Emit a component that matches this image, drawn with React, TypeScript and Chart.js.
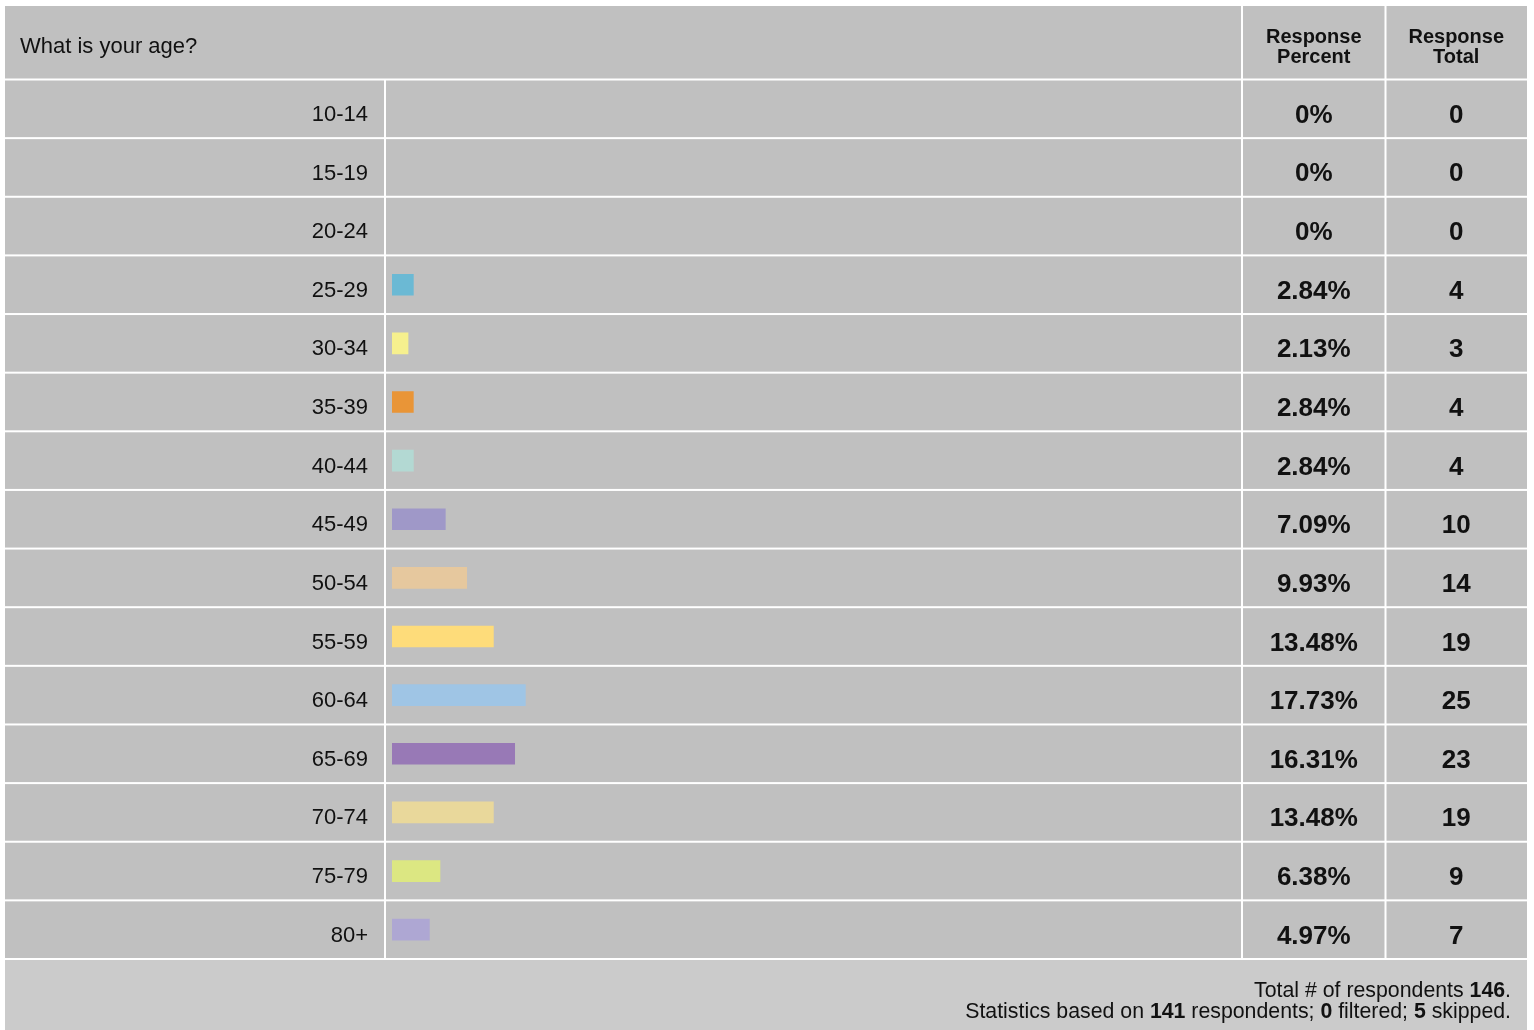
import React, { useEffect, useRef } from 'react';
import { Chart, registerables } from 'chart.js';

Chart.register(...registerables);

// ---- data ----
const questionTitle = 'What is your age?';
const categories = ['10-14', '15-19', '20-24', '25-29', '30-34', '35-39', '40-44', '45-49', '50-54', '55-59', '60-64', '65-69', '70-74', '75-79', '80+'];
const percents = [0, 0, 0, 2.84, 2.13, 2.84, 2.84, 7.09, 9.93, 13.48, 17.73, 16.31, 13.48, 6.38, 4.97];
const totals = [0, 0, 0, 4, 3, 4, 4, 10, 14, 19, 25, 23, 19, 9, 7];
const barColors = ['#6bb9d4', '#6bb9d4', '#6bb9d4', '#6bb9d4', '#f6f08e', '#e99537', '#b3d9d3', '#9f98c8', '#e6c89e', '#fedc7a', '#9fc5e5', '#9879b6', '#e9d89b', '#dce782', '#aea7d3'];
const percentHeader = ['Response', 'Percent'];
const totalHeader = ['Response', 'Total'];
const footerLine1: [string, boolean][] = [['Total # of respondents ', false], ['146', true], ['.', false]];
const footerLine2: [string, boolean][] = [['Statistics based on ', false], ['141', true], [' respondents; ', false], ['0', true], [' filtered; ', false], ['5', true], [' skipped.', false]];

const FONT = '"Liberation Sans", Arial, Helvetica, sans-serif';
const TEXT = '#111111';

const tablePlugin = {
  id: 'surveyTable',
  beforeDraw(chart: any) {
    const { ctx, scales, chartArea } = chart;
    const y = scales.y;
    const W = chart.width;
    const H = chart.height;
    const left = 5;
    const right = 1527;
    const top = 6;
    const colA = chartArea.left - 7;
    const colB = chartArea.right;
    const colC = 1385.5;
    const n = categories.length;
    const step = y.getPixelForValue(1) - y.getPixelForValue(0);
    const rowsTop = y.getPixelForValue(0) - step / 2;
    const rowsBottom = y.getPixelForValue(n - 1) + step / 2;

    ctx.save();
    ctx.fillStyle = '#ffffff';
    ctx.fillRect(0, 0, W, H);
    ctx.fillStyle = '#c0c0c0';
    ctx.fillRect(left, top, right - left, rowsBottom - top);
    ctx.fillStyle = '#cbcbcb';
    ctx.fillRect(left, rowsBottom, right - left, H - rowsBottom);

    ctx.fillStyle = '#ffffff';
    for (let i = 0; i <= n; i++) {
      const yy = rowsTop + i * step;
      ctx.fillRect(left, yy - 1, right - left, 2);
    }
    ctx.fillRect(colB - 1, top, 2, rowsBottom - top);
    ctx.fillRect(colC - 1, top, 2, rowsBottom - top);
    ctx.fillRect(colA - 1, rowsTop, 2, rowsBottom - rowsTop);

    // header
    ctx.fillStyle = TEXT;
    ctx.textBaseline = 'alphabetic';
    ctx.textAlign = 'left';
    ctx.font = `22px ${FONT}`;
    ctx.fillText(questionTitle, 20, 53);

    const pctX = (colB + colC) / 2;
    const totX = (colC + right) / 2;
    ctx.textAlign = 'center';
    ctx.font = `bold 20px ${FONT}`;
    ctx.fillText(percentHeader[0], pctX, 43);
    ctx.fillText(percentHeader[1], pctX, 63);
    ctx.fillText(totalHeader[0], totX, 43);
    ctx.fillText(totalHeader[1], totX, 63);

    // value columns
    ctx.font = `bold 26px ${FONT}`;
    for (let i = 0; i < n; i++) {
      const cy = y.getPixelForValue(i);
      const p = percents[i];
      const label = p === 0 ? '0%' : p.toFixed(2) + '%';
      ctx.fillText(label, pctX, cy + 14);
      ctx.fillText(String(totals[i]), totX, cy + 14);
    }

    // footer
    const drawRich = (parts: [string, boolean][], xRight: number, baseline: number) => {
      let x = xRight;
      ctx.textAlign = 'left';
      for (let k = parts.length - 1; k >= 0; k--) {
        const [txt, bold] = parts[k];
        ctx.font = `${bold ? 'bold ' : ''}21.3px ${FONT}`;
        const w = ctx.measureText(txt).width;
        x -= w;
        ctx.fillText(txt, x, baseline);
      }
    };
    drawRich(footerLine1, 1511, 997);
    drawRich(footerLine2, 1511, 1018);
    ctx.restore();
  },
};

export default function App() {
  const ref = useRef<HTMLCanvasElement | null>(null);
  useEffect(() => {
    document.body.style.margin = '0';
    const canvas = ref.current;
    if (!canvas) return;
    const chart = new Chart(canvas, {
      type: 'bar',
      data: {
        labels: categories,
        datasets: [
          {
            data: percents.map((p) => (p === 0 ? null : p)),
            backgroundColor: barColors,
            borderWidth: 0,
            barThickness: 21,
          },
        ],
      },
      options: {
        indexAxis: 'y',
        responsive: false,
        animation: false,
        devicePixelRatio: 1,
        layout: { padding: { left: 5, top: 79.5, right: 292, bottom: 71 } },
        plugins: {
          legend: { display: false },
          tooltip: { enabled: false },
          title: { display: false },
        },
        scales: {
          x: {
            display: false,
            min: 0,
            max: 113,
          },
          y: {
            type: 'category',
            grid: { display: false, drawTicks: false },
            border: { display: false },
            ticks: {
              font: { family: FONT, size: 22 },
              color: TEXT,
              padding: 24,
              labelOffset: 6,
            },
            afterFit(scale: any) {
              scale.width = 387;
            },
          },
        },
      },
      plugins: [tablePlugin],
    });
    return () => chart.destroy();
  }, []);
  return (
    <div style={{ width: 1534, height: 1030 }}>
      <canvas ref={ref} width={1534} height={1030} style={{ display: 'block', width: 1534, height: 1030 }} />
    </div>
  );
}
